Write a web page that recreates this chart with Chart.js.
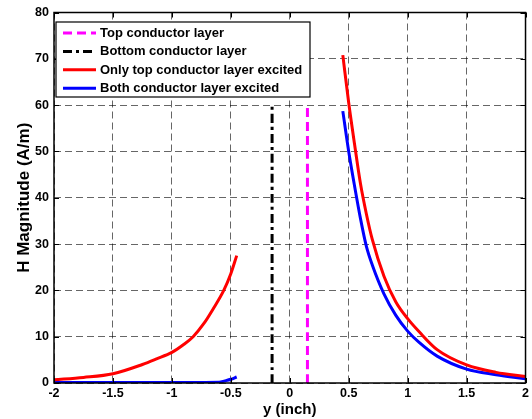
<!DOCTYPE html>
<html>
<head>
<meta charset="utf-8">
<script src="https://cdn.jsdelivr.net/npm/chart.js@4.4.0/dist/chart.umd.min.js"></script>
<style>
  html, body { margin: 0; padding: 0; background: #fff; }
  #wrap { width: 532px; height: 419px; }
</style>
</head>
<body>
<div id="wrap"><canvas id="chart" width="532" height="419"></canvas></div>
<script>
// values
const redLeftX = [-2, -1.75, -1.5, -1.25, -1.13, -1, -0.9, -0.82, -0.73, -0.65, -0.56, -0.5, -0.45];
const redLeftY = [0.7, 1.2, 2.0, 4.0, 5.2, 6.6, 8.3, 10, 12.8, 16.0, 20, 23.6, 27.5];
const redRightX = [0.45, 0.5, 0.55, 0.6, 0.65, 0.7, 0.8, 0.9, 1.0, 1.1, 1.25, 1.5, 1.75, 2.0];
const redRightY = [70.8, 60.5, 51.5, 43, 36.5, 31, 23, 17.5, 13.9, 11, 7.2, 3.9, 2.3, 1.4];
const blueLeftX = [-2, -1.5, -1, -0.6, -0.55, -0.5, -0.45];
const blueLeftY = [0.1, 0.1, 0.1, 0.15, 0.45, 0.8, 1.3];
const blueRightX = [0.45, 0.5, 0.55, 0.6, 0.65, 0.7, 0.8, 0.9, 1.0, 1.1, 1.25, 1.5, 1.75, 2.0];
const blueRightY = [58.7, 50, 42.5, 35.5, 29.5, 25.5, 19.2, 14.6, 11.2, 8.7, 5.8, 3.0, 1.8, 0.9];
const topLayerX = [0.15, 0.15];
const botLayerX = [-0.15, -0.15];
const layerY = [0, 60];
const xTicks = [-2, -1.5, -1, -0.5, 0, 0.5, 1, 1.5, 2];
const yTicks = [0, 10, 20, 30, 40, 50, 60, 70, 80];
const legendLabels = ['Top conductor layer', 'Bottom conductor layer',
  'Only top conductor layer excited', 'Both conductor layer excited'];

const pts = (xs, ys) => xs.map((x, i) => ({x: x, y: ys[i]}));
const gap = {x: 0, y: null};

const FONT = '"Liberation Sans", Arial, sans-serif';

const datasets = [
  {label: legendLabels[0], data: pts(topLayerX, layerY), borderColor: '#ff00ff', borderWidth: 3, borderDash: [9, 5]},
  {label: legendLabels[1], data: pts(botLayerX, layerY), borderColor: '#000', borderWidth: 3, borderDash: [9, 4, 3, 4]},
  {label: legendLabels[2], data: pts(redLeftX, redLeftY).concat([gap], pts(redRightX, redRightY)), borderColor: '#ff0000', borderWidth: 3},
  {label: legendLabels[3], data: pts(blueLeftX, blueLeftY).concat([gap], pts(blueRightX, blueRightY)), borderColor: '#0000ff', borderWidth: 3}
];
datasets.forEach(d => {
  d.showLine = true;
  d.pointRadius = 0;
  d.cubicInterpolationMode = 'monotone';
  d.fill = false;
  d.spanGaps = false;
});

// box, inward ticks and the boxed legend, MATLAB style
const matlabBox = {
  id: 'matlabBox',
  afterDatasetsDraw(chart) {
    const ctx = chart.ctx;
    const a = chart.chartArea;
    const xs = chart.scales.x, ys = chart.scales.y;
    ctx.save();
    ctx.strokeStyle = '#000';
    ctx.lineWidth = 1;
    ctx.setLineDash([]);
    ctx.beginPath();
    xTicks.forEach(t => {
      const px = Math.round(xs.getPixelForValue(t)) + 0.5;
      ctx.moveTo(px, a.bottom); ctx.lineTo(px, a.bottom - 5);
      ctx.moveTo(px, a.top); ctx.lineTo(px, a.top + 5);
    });
    yTicks.forEach(t => {
      const py = Math.round(ys.getPixelForValue(t)) + 0.5;
      ctx.moveTo(a.left, py); ctx.lineTo(a.left + 5, py);
      ctx.moveTo(a.right, py); ctx.lineTo(a.right - 5, py);
    });
    ctx.stroke();
    ctx.lineWidth = 1.5;
    ctx.strokeRect(a.left, a.top, a.right - a.left, a.bottom - a.top);

    // legend
    const lx = 56, ly = 22, lw = 254, lh = 75;
    ctx.fillStyle = '#fff';
    ctx.fillRect(lx, ly, lw, lh);
    ctx.lineWidth = 1.2;
    ctx.strokeRect(lx, ly, lw, lh);
    ctx.font = 'bold 13px ' + FONT;
    ctx.textBaseline = 'middle';
    ctx.textAlign = 'left';
    chart.data.datasets.forEach((d, i) => {
      const y = ly + 11 + i * 18.4;
      ctx.strokeStyle = d.borderColor;
      ctx.lineWidth = 3;
      ctx.setLineDash(d.borderDash || []);
      ctx.beginPath();
      ctx.moveTo(63, y); ctx.lineTo(96, y);
      ctx.stroke();
      ctx.setLineDash([]);
      ctx.fillStyle = '#000';
      ctx.fillText(d.label, 100, y + 0.5);
    });
    ctx.restore();
  }
};

const tickFont = {family: FONT, size: 12.5, weight: 'bold'};
const gridStyle = {color: 'rgba(0,0,0,0.6)', lineWidth: 1, drawTicks: false};

new Chart(document.getElementById('chart').getContext('2d'), {
  type: 'scatter',
  data: {datasets: datasets},
  options: {
    responsive: false,
    animation: false,
    layout: {padding: {top: 10, right: 5, left: 0, bottom: 0}},
    plugins: {legend: {display: false}, tooltip: {enabled: false}},
    scales: {
      x: {
        type: 'linear', min: -2, max: 2,
        afterBuildTicks: s => { s.ticks = xTicks.map(v => ({value: v})); },
        afterFit: s => { s.height = 36; },
        border: {display: false, dash: [7, 4]},
        grid: gridStyle,
        ticks: {color: '#000', font: tickFont, padding: 3, maxRotation: 0, callback: v => String(v)},
        title: {display: true, text: 'y (inch)', color: '#000', font: {family: FONT, size: 15, weight: 'bold'}, padding: {top: 0, bottom: 0}}
      },
      y: {
        type: 'linear', min: 0, max: 80,
        afterBuildTicks: s => { s.ticks = yTicks.map(v => ({value: v})); },
        afterFit: s => { s.width = 54; },
        border: {display: false, dash: [7, 4]},
        grid: gridStyle,
        ticks: {color: '#000', font: tickFont, padding: 5, callback: v => String(v)},
        title: {display: true, text: 'H Magnitude (A/m)', color: '#000', font: {family: FONT, size: 17, weight: 'bold'}, padding: {top: 14, bottom: 0}}
      }
    }
  },
  plugins: [matlabBox]
});
</script>
</body>
</html>
